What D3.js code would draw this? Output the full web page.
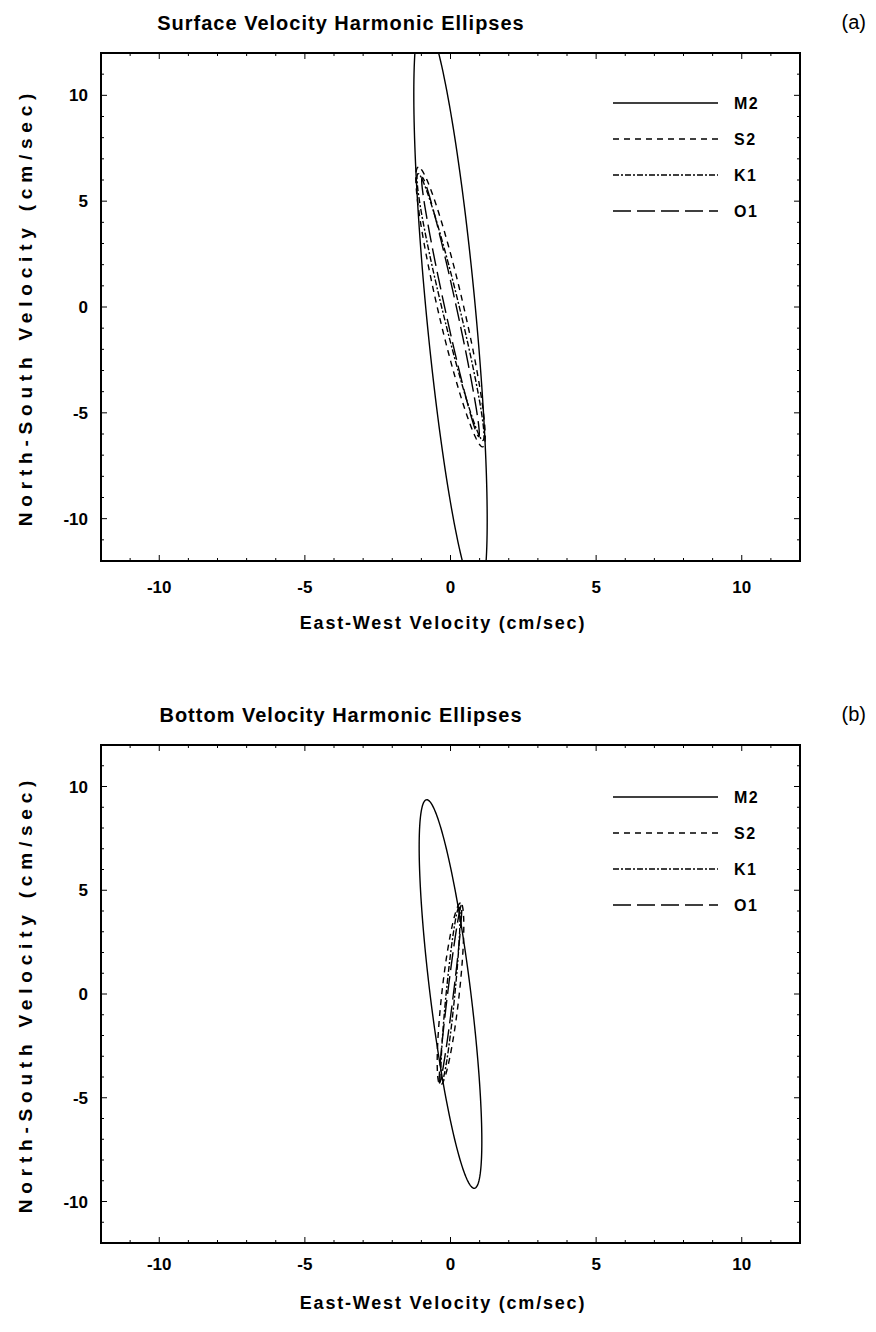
<!DOCTYPE html>
<html lang="en">
<head>
    <meta charset="UTF-8">
    <title>Velocity Harmonic Ellipses</title>
    <style>
        body {
            margin: 0;
            padding: 0;
            background-color: #fff;
            font-family: 'Liberation Sans', Arial, sans-serif;
        }
        .frame {
            fill: none;
            stroke: #000;
            stroke-width: 2px;
        }
        .tick line {
            stroke: #000;
            stroke-width: 1px;
        }
        .tick-label {
            font-size: 17px;
            font-weight: bold;
            fill: #000;
        }
        .title {
            font-size: 20px;
            font-weight: bold;
            letter-spacing: 1px;
            fill: #000;
            text-anchor: middle;
        }
        .axis-title {
            font-size: 18px;
            font-weight: bold;
            fill: #000;
            text-anchor: middle;
        }
        .ellipse {
            fill: none;
            stroke: #000;
            stroke-width: 1.4px;
        }
        .legend-label {
            font-size: 16px;
            font-weight: bold;
            letter-spacing: 1.5px;
            fill: #000;
        }
    </style>
</head>
<body>
    <div id="chart"></div>

    <script src="https://d3js.org/d3.v7.min.js"></script>
    <script>
        // tidal constituents and their ellipse parameters (cm/sec, inclination in deg from east)
        const constituents = ["M2", "S2", "K1", "O1"];
        const surfaceMajor = [13.7, 6.7, 6.4, 6.2];
        const surfaceMinor = [0.85, 0.45, 0.3, 0.2];
        const surfaceIncl = [93.9, 99.5, 100, 99];
        const bottomMajor = [9.4, 4.4, 4.2, 4.3];
        const bottomMinor = [0.7, 0.3, 0.15, 0.1];
        const bottomIncl = [95, 85.5, 86, 85];
        const tickValues = [-10, -5, 0, 5, 10];
        const dashes = ["none", "6,5", "6,2,2,2", "18,6"];

        const width = 876;
        const height = 1332;

        const svg = d3.select('#chart')
            .append('svg')
            .attr('width', width)
            .attr('height', height);

        const panels = [
            { id: 'a', title: 'Surface Velocity Harmonic Ellipses', top: 53, bottom: 561,
              major: surfaceMajor, minor: surfaceMinor, incl: surfaceIncl, legendY: 103, labelGap: 32, titleGap: 68 },
            { id: 'b', title: 'Bottom Velocity Harmonic Ellipses', top: 745, bottom: 1243,
              major: bottomMajor, minor: bottomMinor, incl: bottomIncl, legendY: 797, labelGap: 27, titleGap: 66 }
        ];

        const left = 101, right = 800;

        panels.forEach(p => {
            const g = svg.append('g');

            const x = d3.scaleLinear().domain([-12, 12]).range([left, right]);
            const y = d3.scaleLinear().domain([-12, 12]).range([p.bottom, p.top]);

            // clip so long ellipses stop at the frame
            g.append('clipPath')
                .attr('id', 'clip-' + p.id)
                .append('rect')
                .attr('x', left).attr('y', p.top)
                .attr('width', right - left).attr('height', p.bottom - p.top);

            // minor ticks every 1, major every 5, all pointing inward on four sides
            const minor = d3.range(-12, 13);
            const tickLen = v => (v % 5 === 0 ? 6 : 3);

            const ticks = g.append('g').attr('class', 'tick');
            minor.forEach(v => {
                ticks.append('line').attr('x1', x(v)).attr('x2', x(v))
                    .attr('y1', p.bottom).attr('y2', p.bottom - tickLen(v));
                ticks.append('line').attr('x1', x(v)).attr('x2', x(v))
                    .attr('y1', p.top).attr('y2', p.top + tickLen(v));
                ticks.append('line').attr('y1', y(v)).attr('y2', y(v))
                    .attr('x1', left).attr('x2', left + tickLen(v));
                ticks.append('line').attr('y1', y(v)).attr('y2', y(v))
                    .attr('x1', right).attr('x2', right - tickLen(v));
            });

            g.selectAll('.xlab')
                .data(tickValues)
                .enter()
                .append('text')
                .attr('class', 'tick-label')
                .attr('x', d => x(d))
                .attr('y', p.bottom + p.labelGap)
                .attr('text-anchor', 'middle')
                .text(d => d);

            g.selectAll('.ylab')
                .data(tickValues)
                .enter()
                .append('text')
                .attr('class', 'tick-label')
                .attr('x', left - 13)
                .attr('y', d => y(d) + 6)
                .attr('text-anchor', 'end')
                .text(d => d);

            // ellipses
            const line = d3.line().x(d => x(d[0])).y(d => y(d[1]));
            const angles = d3.range(0, 361, 2).map(a => a * Math.PI / 180);

            constituents.forEach((c, i) => {
                const A = p.major[i], B = p.minor[i];
                const th = p.incl[i] * Math.PI / 180;
                const pts = angles.map(t => {
                    const u = A * Math.cos(t), v = B * Math.sin(t);
                    return [u * Math.cos(th) - v * Math.sin(th), u * Math.sin(th) + v * Math.cos(th)];
                });
                g.append('path')
                    .attr('class', 'ellipse')
                    .attr('clip-path', 'url(#clip-' + p.id + ')')
                    .attr('stroke-dasharray', dashes[i])
                    .attr('d', line(pts));
            });

            // legend
            constituents.forEach((c, i) => {
                const ly = p.legendY + i * 36;
                g.append('line')
                    .attr('x1', 613).attr('x2', 718)
                    .attr('y1', ly).attr('y2', ly)
                    .attr('stroke', '#000')
                    .attr('stroke-width', 1.4)
                    .attr('stroke-dasharray', dashes[i]);
                g.append('text')
                    .attr('class', 'legend-label')
                    .attr('x', 734)
                    .attr('y', ly + 6)
                    .text(c);
            });

            g.append('rect')
                .attr('class', 'frame')
                .attr('x', left).attr('y', p.top)
                .attr('width', right - left).attr('height', p.bottom - p.top);

            g.append('text')
                .attr('class', 'title')
                .attr('x', 341)
                .attr('y', p.top - 23)
                .text(p.title);

            g.append('text')
                .attr('x', 866)
                .attr('y', p.top - 24)
                .attr('text-anchor', 'end')
                .style('font-size', '20px')
                .text('(' + p.id + ')');

            g.append('text')
                .attr('class', 'axis-title')
                .attr('x', 443)
                .attr('y', p.bottom + p.titleGap)
                .style('letter-spacing', '1.8px')
                .text('East-West Velocity (cm/sec)');

            g.append('text')
                .attr('class', 'axis-title')
                .attr('transform', `translate(32, ${(p.top + p.bottom) / 2}) rotate(-90)`)
                .style('font-size', '19px')
                .style('letter-spacing', '5.8px')
                .text('North-South Velocity (cm/sec)');
        });
    </script>
</body>
</html>
